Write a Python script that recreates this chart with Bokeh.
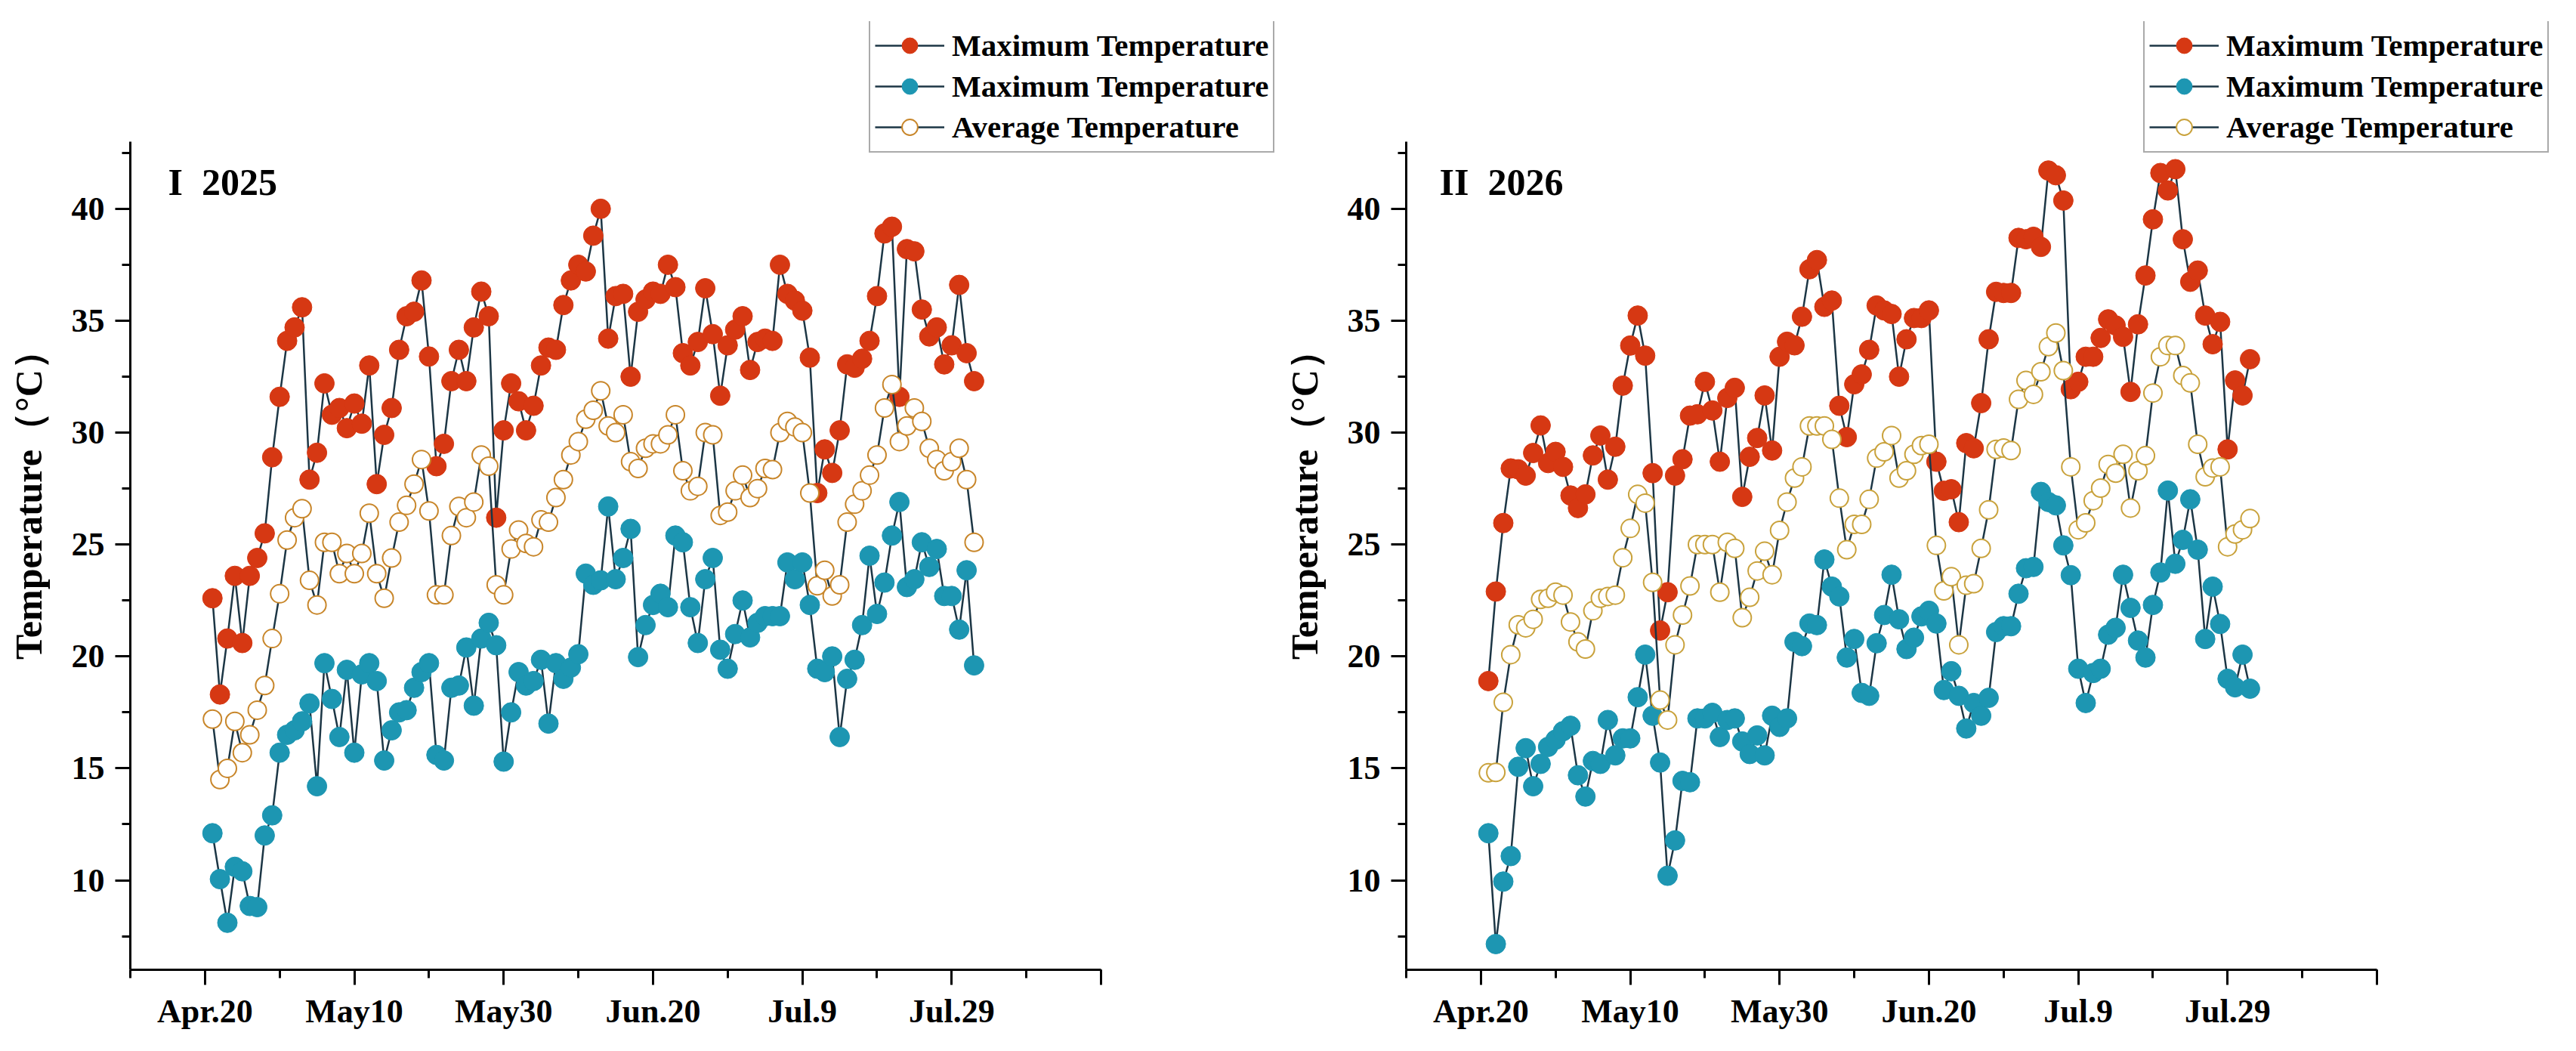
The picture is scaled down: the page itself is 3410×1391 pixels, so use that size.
from bokeh.plotting import figure
from bokeh.layouts import row
from bokeh.models import Legend, LegendItem, Label, SingleIntervalTicker, Range1d
from bokeh.embed import file_html
from bokeh.resources import INLINE

# ---------------- data ----------------
days = list(range(1, 104))
tick_positions = [0, 20, 40, 60, 80, 100, 120]
tick_labels = ["Apr.20", "May10", "May30", "Jun.20", "Jul.9", "Jul.29", ""]
series_labels = ["Maximum Temperature", "Maximum Temperature", "Average Temperature"]
titles = ["I\u00a0\u00a02025", "II\u00a0\u00a02026"]
y_label = "Temperature（°C）"

tmax_2025 = [22.6, 18.3, 20.8, 23.6, 20.6, 23.6, 24.4, 25.5, 28.9, 31.6,
             34.1, 34.7, 35.6, 27.9, 29.1, 32.2, 30.8, 31.1, 30.2, 31.3,
             30.4, 33.0, 27.7, 29.9, 31.1, 33.7, 35.2, 35.4, 36.8, 33.4,
             28.5, 29.5, 32.3, 33.7, 32.3, 34.7, 36.3, 35.2, 26.2, 30.1,
             32.2, 31.4, 30.1, 31.2, 33.0, 33.8, 33.7, 35.7, 36.8, 37.5,
             37.2, 38.8, 40.0, 34.2, 36.1, 36.2, 32.5, 35.4, 35.95, 36.3,
             36.2, 37.5, 36.5, 33.55, 33.0, 34.05, 36.45, 34.4, 31.65, 33.9,
             34.6, 35.2, 32.8, 34.05, 34.2, 34.1, 37.5, 36.2, 35.9, 35.45,
             33.35, 27.3, 29.25, 28.2, 30.1, 33.05, 32.9, 33.3, 34.1, 36.1,
             38.9, 39.2, 31.6, 38.2, 38.1, 35.5, 34.3, 34.7, 33.05, 33.9,
             36.6, 33.55, 32.3]
tmin_2025 = [12.1, 10.05, 8.1, 10.6, 10.4, 8.85, 8.8, 12.0, 12.9, 15.7,
             16.5, 16.7, 17.1, 17.9, 14.2, 19.7, 18.1, 16.4, 19.4, 15.7,
             19.2, 19.7, 18.9, 15.35, 16.7, 17.5, 17.6, 18.6, 19.3, 19.7,
             15.6, 15.35, 18.6, 18.7, 20.4, 17.8, 20.8, 21.5, 20.5, 15.3,
             17.5, 19.3, 18.7, 18.9, 19.85, 17.0, 19.7, 19.0, 19.5, 20.1,
             23.7, 23.2, 23.4, 26.7, 23.45, 24.4, 25.7, 19.97, 21.4, 22.3,
             22.8, 22.2, 25.4, 25.1, 22.2, 20.6, 23.45, 24.4, 20.3, 19.45,
             21.0, 22.5, 20.85, 21.5, 21.8, 21.8, 21.8, 24.2, 23.45, 24.2,
             22.3, 19.45, 19.3, 20.0, 16.4, 19.0, 19.85, 21.4, 24.5, 21.9,
             23.3, 25.4, 26.9, 23.1, 23.45, 25.1, 24.0, 24.8, 22.7, 22.7,
             21.2, 23.85, 19.6]
tavg_2025 = [17.2, 14.5, 15.0, 17.1, 15.7, 16.5, 17.6, 18.7, 20.8, 22.8,
             25.2, 26.2, 26.6, 23.4, 22.3, 25.1, 25.1, 23.7, 24.6, 23.7,
             24.6, 26.4, 23.7, 22.6, 24.4, 26.0, 26.75, 27.7, 28.8, 26.5,
             22.75, 22.75, 25.4, 26.7, 26.2, 26.9, 29.0, 28.5, 23.2, 22.75,
             24.8, 25.65, 25.05, 24.9, 26.1, 26.0, 27.1, 27.9, 29.0, 29.6,
             30.6, 31.0, 31.87, 30.3, 30.0, 30.8, 28.7, 28.4, 29.3, 29.5,
             29.5, 29.9, 30.8, 28.3, 27.4, 27.6, 30.0, 29.9, 26.3, 26.45,
             27.4, 28.1, 27.1, 27.5, 28.4, 28.35, 30.0, 30.5, 30.25, 30.0,
             27.3, 23.16, 23.85, 22.7, 23.2, 26.0, 26.8, 27.4, 28.1, 29.0,
             31.1, 32.15, 29.6, 30.3, 31.1, 30.5, 29.3, 28.8, 28.3, 28.7,
             29.3, 27.9, 25.1]

tmax_2026 = [18.9, 22.9, 25.96, 28.4, 28.36, 28.08, 29.09, 30.32, 28.64, 29.14,
             28.47, 27.19, 26.63, 27.24, 28.98, 29.87, 27.9, 29.37, 32.1, 33.89,
             35.23, 33.44, 28.19, 21.16, 22.87, 28.08, 28.81, 30.76, 30.82, 32.27,
             30.99, 28.7, 31.55, 32.0, 27.13, 28.92, 29.76, 31.66, 29.2, 33.39,
             34.06, 33.9, 35.18, 37.3, 37.71, 35.62, 35.9, 31.2, 29.8, 32.16,
             32.6, 33.7, 35.68, 35.46, 35.3, 32.5, 34.17, 35.12, 35.12, 35.46,
             28.7, 27.4, 27.47, 26.0, 29.53, 29.3, 31.32, 34.17, 36.29, 36.24,
             36.24, 38.7, 38.64, 38.75, 38.3, 41.71, 41.5, 40.37, 31.94, 32.27,
             33.39, 33.39, 34.23, 35.06, 34.79, 34.28, 31.82, 34.84, 37.02, 39.53,
             41.6, 40.82, 41.77, 38.64, 36.74, 37.24, 35.23, 33.95, 34.95, 29.25,
             32.33, 31.66, 33.28]
tmin_2026 = [12.1, 7.15, 9.94, 11.08, 15.07, 15.9, 14.2, 15.2, 15.96, 16.28,
             16.66, 16.9, 14.69, 13.74, 15.33, 15.2, 17.16, 15.58, 16.34, 16.34,
             18.18, 20.08, 17.35, 15.26, 10.2, 11.78, 14.44, 14.38, 17.23, 17.23,
             17.48, 16.4, 17.16, 17.23, 16.2, 15.64, 16.47, 15.58, 17.35, 16.85,
             17.23, 20.65, 20.46, 21.47, 21.4, 24.33, 23.12, 22.68, 19.95, 20.78,
             18.37, 18.24, 20.59, 21.85, 23.65, 21.66, 20.33, 20.84, 21.79, 22.04,
             21.47, 18.5, 19.34, 18.24, 16.78, 17.92, 17.35, 18.15, 21.09, 21.35,
             21.35, 22.8, 23.94, 24.0, 27.35, 26.9, 26.75, 24.96, 23.63, 19.45,
             17.92, 19.26, 19.45, 20.97, 21.28, 23.65, 22.17, 20.71, 19.95, 22.3,
             23.75, 27.41, 24.14, 25.21, 27.02, 24.77, 20.78, 23.12, 21.45, 19.0,
             18.62, 20.08, 18.56]
tavg_2026 = [14.8, 14.82, 17.95, 20.08, 21.41, 21.28, 21.66, 22.55, 22.6, 22.87,
             22.74, 21.54, 20.65, 20.33, 22.04, 22.6, 22.68, 22.74, 24.41, 25.72,
             27.24, 26.85, 23.31, 18.05, 17.16, 20.52, 21.85, 23.15, 25.0, 25.0,
             25.0, 22.87, 25.1, 24.83, 21.73, 22.64, 23.82, 24.7, 23.65, 25.63,
             26.9, 27.97, 28.47, 30.3, 30.3, 30.3, 29.7, 27.07, 24.77, 25.9,
             25.9, 27.02, 28.86, 29.14, 29.87, 27.97, 28.3, 29.03, 29.42, 29.48,
             24.96, 22.93, 23.56, 20.52, 23.18, 23.25, 24.83, 26.55, 29.25, 29.31,
             29.2, 31.49, 32.33, 31.71, 32.72, 33.84, 34.45, 32.77, 28.47, 25.66,
             25.97, 26.96, 27.52, 28.58, 28.19, 29.03, 26.63, 28.3, 28.97, 31.77,
             33.39, 33.89, 33.89, 32.55, 32.22, 29.48, 28.03, 28.42, 28.47, 24.9,
             25.47, 25.66, 26.16]

# ---------------- styling / layout ----------------
RED = "#d63813"
BLUE = "#1d96b2"
LINE = "#1c3645"
FONT = "Liberation Serif"
FIG_H = 1375
X_START, X_END = -10, 120     # extent of the drawn x axis
Y_START, Y_END = 6, 43        # extent of the drawn y axis
AXIS_W_PX = 1285              # pixel length of the drawn x axis
AXIS_H_PX = 1096              # pixel length of the drawn y axis
B_TOP, B_BOTTOM = 28, 92


def make_panel(title, tmax, tmin, tavg, width, border_left, border_right,
               title_x, legend_x, avg_color):
    frame_w = width - border_left - border_right
    frame_h = FIG_H - B_TOP - B_BOTTOM
    # frame is larger than the axes so the legend (which sits above the axes) is not clipped
    x_hi = X_START + (X_END - X_START) * frame_w / AXIS_W_PX
    y_hi = Y_START + (Y_END - Y_START) * frame_h / AXIS_H_PX
    p = figure(width=width, height=FIG_H, output_backend="svg", toolbar_location=None,
               x_range=Range1d(X_START, x_hi), y_range=Range1d(Y_START, y_hi),
               min_border_left=border_left, min_border_right=border_right,
               min_border_top=B_TOP, min_border_bottom=B_BOTTOM)
    p.outline_line_color = None
    p.grid.visible = False
    p.background_fill_color = "white"
    p.border_fill_color = "white"

    p.xaxis.ticker = SingleIntervalTicker(interval=20, num_minor_ticks=2)
    p.yaxis.ticker = SingleIntervalTicker(interval=5, num_minor_ticks=2)
    p.xaxis.bounds = (X_START, X_END)
    p.yaxis.bounds = (Y_START, Y_END)
    p.xaxis.major_label_overrides = {pos: lab for pos, lab in zip(tick_positions, tick_labels)}

    for ax in (p.xaxis[0], p.yaxis[0]):
        ax.axis_line_width = 3
        ax.axis_line_color = "black"
        ax.major_tick_line_width = 3
        ax.minor_tick_line_width = 3
        ax.major_tick_line_color = "black"
        ax.minor_tick_line_color = "black"
        ax.major_tick_out = 20
        ax.major_tick_in = 0
        ax.minor_tick_out = 11
        ax.minor_tick_in = 0
        ax.major_label_text_font = FONT
        ax.major_label_text_font_style = "bold"
        ax.major_label_text_font_size = "44px"
        ax.major_label_text_color = "black"
    p.xaxis.major_label_standoff = 10
    p.yaxis.major_label_standoff = 14

    p.yaxis.axis_label = y_label
    p.yaxis.axis_label_text_font = FONT
    p.yaxis.axis_label_text_font_style = "bold"
    p.yaxis.axis_label_text_font_size = "50px"
    p.yaxis.axis_label_text_color = "black"
    p.yaxis.axis_label_standoff = 26

    # series: max (red), min (blue), average (hollow)
    r1l = p.line(days, tmax, line_color=LINE, line_width=2.5)
    r1s = p.scatter(days, tmax, marker="circle", size=26, fill_color=RED, line_color=RED)
    r2l = p.line(days, tmin, line_color=LINE, line_width=2.5)
    r2s = p.scatter(days, tmin, marker="circle", size=26, fill_color=BLUE, line_color=BLUE)
    r3l = p.line(days, tavg, line_color=LINE, line_width=2.5)
    r3s = p.scatter(days, tavg, marker="circle", size=24, fill_color="white",
                    line_color=avg_color, line_width=2)

    legend = Legend(items=[LegendItem(label=series_labels[0], renderers=[r1l, r1s]),
                           LegendItem(label=series_labels[1], renderers=[r2l, r2s]),
                           LegendItem(label=series_labels[2], renderers=[r3l, r3s])],
                    location=(legend_x, 1081), orientation="vertical",
                    label_text_font=FONT, label_text_font_style="bold",
                    label_text_font_size="41px", label_text_color="black",
                    glyph_width=92, glyph_height=52, label_height=52,
                    label_standoff=10, spacing=2, padding=6, margin=0,
                    border_line_color="#555555", border_line_width=2,
                    background_fill_color="white", background_fill_alpha=1)
    p.add_layout(legend)

    p.add_layout(Label(x=title_x, y=1043, x_units="screen", y_units="screen", text=title,
                       text_font=FONT, text_font_style="bold", text_font_size="50px",
                       text_baseline="alphabetic", text_color="black"))
    return p


p1 = make_panel(titles[0], tmax_2025, tmin_2025, tavg_2025, 1692, 172, 0, 50, 978, "#c8862a")
p2 = make_panel(titles[1], tmax_2026, tmin_2026, tavg_2026, 1702, 169, 4, 44, 976, "#c9a23c")

layout = row(p1, p2)
open("out.html", "w").write(file_html(layout, INLINE))
